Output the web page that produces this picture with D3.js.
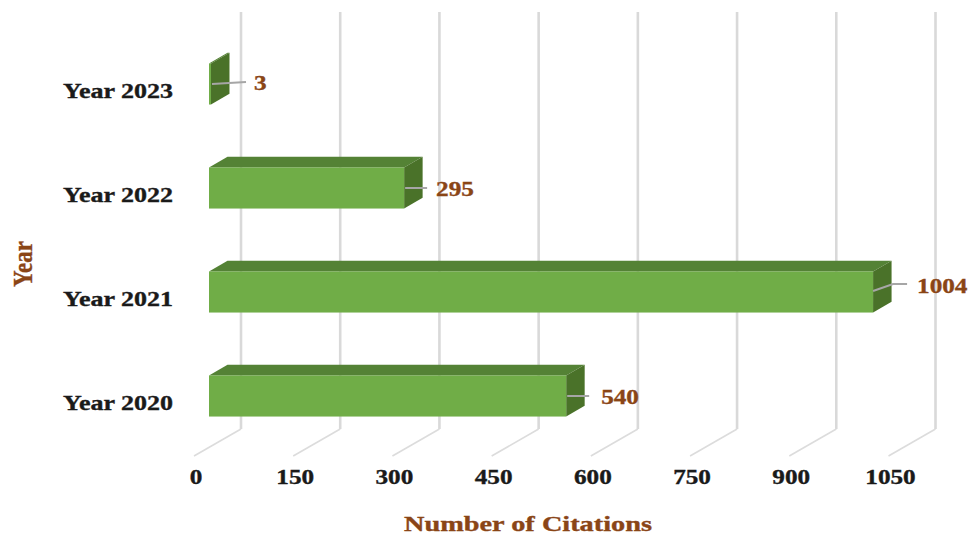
<!DOCTYPE html>
<html>
<head>
<meta charset="utf-8">
<script src="https://cdnjs.cloudflare.com/ajax/libs/d3/7.8.5/d3.min.js"></script>
<style>
  html, body { margin: 0; padding: 0; background: #fff; }
  svg { display: block; }
  text { font-family: "Liberation Serif", serif; font-weight: bold; stroke-width: 0.35; paint-order: stroke; }
</style>
</head>
<body>
<svg id="chart" width="979" height="535"></svg>
<script>
const years = ["Year 2023", "Year 2022", "Year 2021", "Year 2020"];
const citations = [3, 295, 1004, 540];
const xTicks = [0, 150, 300, 450, 600, 750, 900, 1050];

const svg = d3.select("#chart");

const x = d3.scaleLinear().domain([0, 1050]).range([209, 903.5]);
const y = d3.scaleBand().domain(years).range([32, 448])
  .paddingInner(0.605).paddingOuter(0.3025);

// Oblique offsets of the pseudo-3D box
const depthX = 18.5, depthY = -10.8;
const wallX = 32, wallTop = 12, wallBottom = 429;
const floorDx = -47, floorDy = 27;

const poly = pts => pts.map(p => p.join(",")).join(" ");

// Back wall gridlines and the floor lines running toward the viewer
const grid = svg.append("g");
grid.selectAll("line.wall").data(xTicks).join("line").attr("class", "wall")
  .attr("x1", d => x(d) + wallX).attr("x2", d => x(d) + wallX)
  .attr("y1", wallTop).attr("y2", wallBottom)
  .attr("stroke", "#d9d9d9").attr("stroke-width", 2.6);
grid.selectAll("line.floor").data(xTicks).join("line").attr("class", "floor")
  .attr("x1", d => x(d) + wallX).attr("y1", wallBottom)
  .attr("x2", d => x(d) + wallX + floorDx).attr("y2", wallBottom + floorDy)
  .attr("stroke", "#dcdcdc").attr("stroke-width", 1.6);

// Bars: top face, side face, front face
const rows = years.map((name, i) => ({ name, value: citations[i] }));
const bars = svg.selectAll("g.bar").data(rows).join("g").attr("class", "bar");

bars.append("polygon").attr("fill", "#548235").attr("points", d => {
  const l = x(0), r = x(d.value), t = y(d.name);
  return poly([[l, t], [l + depthX, t + depthY], [r + depthX, t + depthY], [r, t]]);
});
bars.append("polygon").attr("fill", "#4a7229").attr("points", d => {
  const r = x(d.value), t = y(d.name), b = t + y.bandwidth();
  return poly([[r, t], [r + depthX, t + depthY], [r + depthX, b + depthY], [r, b]]);
});
bars.append("rect").attr("fill", "#70ad47")
  .attr("x", x(0)).attr("y", d => y(d.name))
  .attr("width", d => x(d.value) - x(0)).attr("height", y.bandwidth());

// Leader lines from each bar to its value label
const midY = d => y(d.name) + y.bandwidth() / 2;
const leaderPoints = d => {
  const r = x(d.value), m = midY(d);
  if (d.value > 1000) return [[r, m - 1], [r + 20, m - 8], [r + 34, m - 8]];
  if (d.value < 10) return [[r + 1, m], [r + 35, m - 2]];
  return [[r + 1, m], [r + 23, m]];
};
bars.append("polyline").attr("fill", "none").attr("stroke", "#a6a6a6").attr("stroke-width", 2)
  .attr("points", d => poly(leaderPoints(d)));

// Horizontally stretched serif text, set to an exact drawn width
function label(sel, size, len, color) {
  return sel.attr("font-size", size).attr("fill", color).attr("stroke", color)
    .attr("textLength", len).attr("lengthAdjust", "spacingAndGlyphs");
}

bars.append("text")
  .attr("x", d => x(d.value) + (d.value > 1000 ? 44 : d.value < 10 ? 43 : d.value > 500 ? 35 : 32))
  .attr("y", d => midY(d) + (d.value < 10 ? 5.5 : d.value > 1000 ? 1 : 8))
  .text(d => d.value)
  .each(function (d) { label(d3.select(this), 20, String(d.value).length * 12.6, "#8a4516"); });

// Category labels
svg.selectAll("text.cat").data(years).join("text").attr("class", "cat")
  .attr("x", 63).attr("y", d => y(d) + y.bandwidth() / 2 + 14)
  .text(d => d)
  .each(function () { label(d3.select(this), 20, 110, "#1a1a1a"); });

// Value axis tick labels
svg.selectAll("text.tick").data(xTicks).join("text").attr("class", "tick")
  .attr("x", d => x(d) - 13).attr("y", 484).attr("text-anchor", "middle")
  .text(d => d)
  .each(function (d) { label(d3.select(this), 20, String(d).length * 12.6, "#1a1a1a"); });

// Axis titles
label(svg.append("text").attr("x", 404).attr("y", 531).text("Number of Citations"),
  21, 248, "#8a4516");
label(svg.append("text").attr("transform", "translate(32,287) rotate(-90)").text("Year"),
  27, 46, "#8a4516");
</script>
</body>
</html>
